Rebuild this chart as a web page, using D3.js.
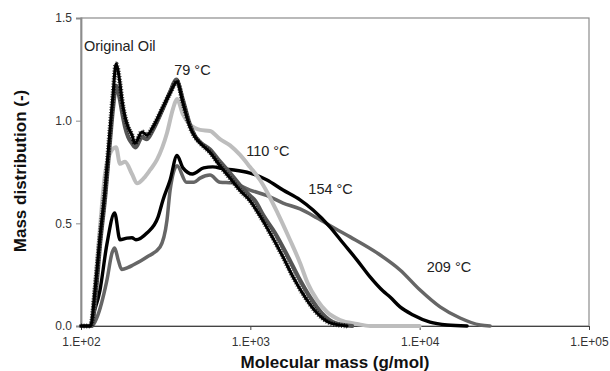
<!DOCTYPE html>
<html>
<head>
<meta charset="utf-8">
<script src="https://cdn.jsdelivr.net/npm/d3@7/dist/d3.min.js"></script>
<style>
  html, body { margin: 0; padding: 0; background: #fff; }
  svg { display: block; font-family: "Liberation Sans", Arial, sans-serif; }
</style>
</head>
<body>
<svg id="chart" width="610" height="371"></svg>
<script>
// ---- data: [molecular mass (g/mol), mass distribution (-)] ----
const originalOil = [
  [100,0],[114,0],[121,0.175],[129.5,0.434],[138.6,0.662],[148.3,0.955],[154.5,1.125],[161,1.276],
  [170,1.18],[174.7,1.10],[182,1.02],[189.6,0.97],[200,0.93],[208,0.89],[229,0.945],[245,0.93],
  [266,0.97],[305,1.067],[336,1.135],[369,1.19],[400,1.086],[440,0.969],[471,0.921],[505,0.891],
  [578,0.845],[662,0.78],[759,0.72],[870,0.66],[996,0.61],[1141,0.536],[1307,0.453],[1560,0.336],
  [1788,0.239],[2104,0.141],[2477,0.063],[2957,0.015],[3726,0]
];
const oil79 = [
  [100,0],[116,0],[122,0.15],[130,0.41],[139,0.63],[148.3,0.9],[154.5,1.06],[161,1.17],
  [170,1.10],[175,1.04],[182,0.97],[190,0.92],[200,0.89],[210,0.87],[229,0.92],[245,0.91],
  [266,0.955],[305,1.06],[336,1.14],[365,1.20],[400,1.10],[440,0.98],[471,0.925],[505,0.895],
  [578,0.86],[662,0.80],[759,0.745],[870,0.685],[996,0.635],[1066,0.61],[1198,0.536],[1399,0.453],
  [1670,0.336],[1920,0.239],[2253,0.141],[2640,0.063],[3165,0.015],[3990,0]
];
const oil110 = [
  [100,0],[114,0],[121,0.2],[129.5,0.48],[138.6,0.74],[148.3,0.84],[161,0.87],[170,0.79],
  [182,0.80],[200,0.74],[214,0.695],[235,0.72],[256,0.76],[281,0.81],[322,0.94],[350,1.06],
  [369,1.105],[400,1.03],[440,0.98],[471,0.964],[505,0.955],[578,0.95],[662,0.91],[759,0.88],
  [870,0.833],[996,0.774],[1141,0.711],[1255,0.653],[1450,0.55],[1716,0.419],[1966,0.307],
  [2180,0.209],[2477,0.127],[2838,0.068],[3387,0.029],[4268,0.01],[5093,0],[10000,0]
];
const oil154 = [
  [100,0],[114,0],[116,0.03],[129.5,0.175],[142,0.395],[158,0.55],[170,0.42],[187,0.428],
  [200,0.43],[211,0.42],[245,0.453],[285,0.53],[305,0.614],[336,0.711],[369,0.83],[400,0.77],
  [455,0.74],[530,0.77],[600,0.775],[700,0.765],[800,0.76],[996,0.745],[1255,0.711],[1560,0.662],
  [1966,0.614],[2346,0.565],[2957,0.482],[3528,0.404],[4268,0.321],[5093,0.239],[6078,0.17],
  [6686,0.141],[7659,0.093],[9142,0.054],[11520,0.019],[14518,0.005],[19055,0]
];
const oil209 = [
  [100,0],[116,0],[124,0.04],[142,0.22],[153,0.36],[158,0.38],[166,0.32],[174,0.275],
  [190,0.285],[203,0.297],[245,0.336],[293,0.385],[322,0.516],[336,0.662],[369,0.78],[420,0.70],
  [465,0.70],[505,0.72],[578,0.735],[662,0.70],[780,0.697],[996,0.662],[1255,0.635],[1560,0.599],
  [1966,0.57],[2477,0.526],[3165,0.475],[3881,0.434],[5602,0.356],[7659,0.273],[10055,0.175],
  [13197,0.093],[17325,0.039],[22740,0.005],[26052,0]
];
const xTicks = [100, 1000, 10000, 100000];
const xTickLabels = ["1.E+02", "1.E+03", "1.E+04", "1.E+05"];
const yTicks = [0, 0.5, 1.0, 1.5];
const yTickLabels = ["0.0", "0.5", "1.0", "1.5"];
const labels = [
  { text: "Original Oil", m: 104, v: 1.34 },
  { text: "79 °C", m: 355, v: 1.22 },
  { text: "110 °C", m: 945, v: 0.83 },
  { text: "154 °C", m: 2200, v: 0.645 },
  { text: "209 °C", m: 11000, v: 0.262 }
];

// ---- layout ----
const svg = d3.select("#chart");
const L = 81, R = 589, T = 18, B = 326;
const x = d3.scaleLog().domain([100, 100000]).range([L, R]);
const y = d3.scaleLinear().domain([0, 1.5]).range([B, T]);

// frame
svg.append("rect").attr("x", L).attr("y", T).attr("width", R - L).attr("height", B - T)
  .attr("fill", "none").attr("stroke", "#8c8c8c").attr("stroke-width", 1.2);

// y axis
const yAxis = svg.append("g").attr("transform", `translate(${L},0)`)
  .call(d3.axisLeft(y).tickValues(yTicks).tickSize(5).tickFormat((d, i) => yTickLabels[i]));
yAxis.attr("font-size", null).attr("font-family", null);
yAxis.select(".domain").attr("stroke", "#8c8c8c").attr("stroke-width", 1.8);
yAxis.selectAll(".tick line").attr("stroke", "#8c8c8c");
yAxis.selectAll(".tick text").style("font-size", "12px").attr("fill", "#333")
  .style("font-family", "'Liberation Sans', Arial, sans-serif").attr("x", -9);

// x axis
const xAxis = svg.append("g").attr("transform", `translate(0,${B})`)
  .call(d3.axisBottom(x).tickValues(xTicks).tickSize(4).tickFormat((d, i) => xTickLabels[i]));
xAxis.attr("font-size", null).attr("font-family", null);
xAxis.select(".domain").attr("stroke", "#444").attr("stroke-width", 1);
xAxis.selectAll(".tick line").attr("stroke", "#444");
xAxis.selectAll(".tick text").style("font-size", "12px").attr("fill", "#333")
  .style("font-family", "'Liberation Sans', Arial, sans-serif").attr("y", 11);

// series
const line = d3.line().x(d => x(d[0])).y(d => y(d[1])).curve(d3.curveMonotoneX);
const series = [
  { data: oil209, color: "#666666", w: 3.5 },
  { data: oil154, color: "#000000", w: 3.4 },
  { data: oil110, color: "#bdbdbd", w: 4 },
  { data: oil79, color: "#555555", w: 4.2 },
  { data: originalOil, color: "#000000", w: 3 }
];
series.forEach(s => {
  svg.append("path").datum(s.data).attr("d", line)
    .attr("fill", "none").attr("stroke", s.color).attr("stroke-width", s.w)
    .attr("stroke-linejoin", "round").attr("stroke-linecap", "round");
});
// marker texture on the original oil curve
svg.append("path").datum(originalOil).attr("d", line)
  .attr("fill", "none").attr("stroke", "#000").attr("stroke-width", 5)
  .attr("stroke-dasharray", "1 1.6").attr("opacity", 0.7);

// annotations
labels.forEach(l => {
  svg.append("text").attr("x", x(l.m)).attr("y", y(l.v))
    .attr("font-size", 14.5).attr("fill", "#222").text(l.text);
});

// axis titles
svg.append("text").attr("x", 335).attr("y", 368).attr("text-anchor", "middle")
  .attr("font-size", 17).attr("font-weight", "bold").attr("fill", "#111")
  .text("Molecular mass (g/mol)");
svg.append("text").attr("transform", "translate(26,171) rotate(-90)").attr("text-anchor", "middle")
  .attr("font-size", 17).attr("font-weight", "bold").attr("fill", "#111")
  .text("Mass distribution (-)");
</script>
</body>
</html>
